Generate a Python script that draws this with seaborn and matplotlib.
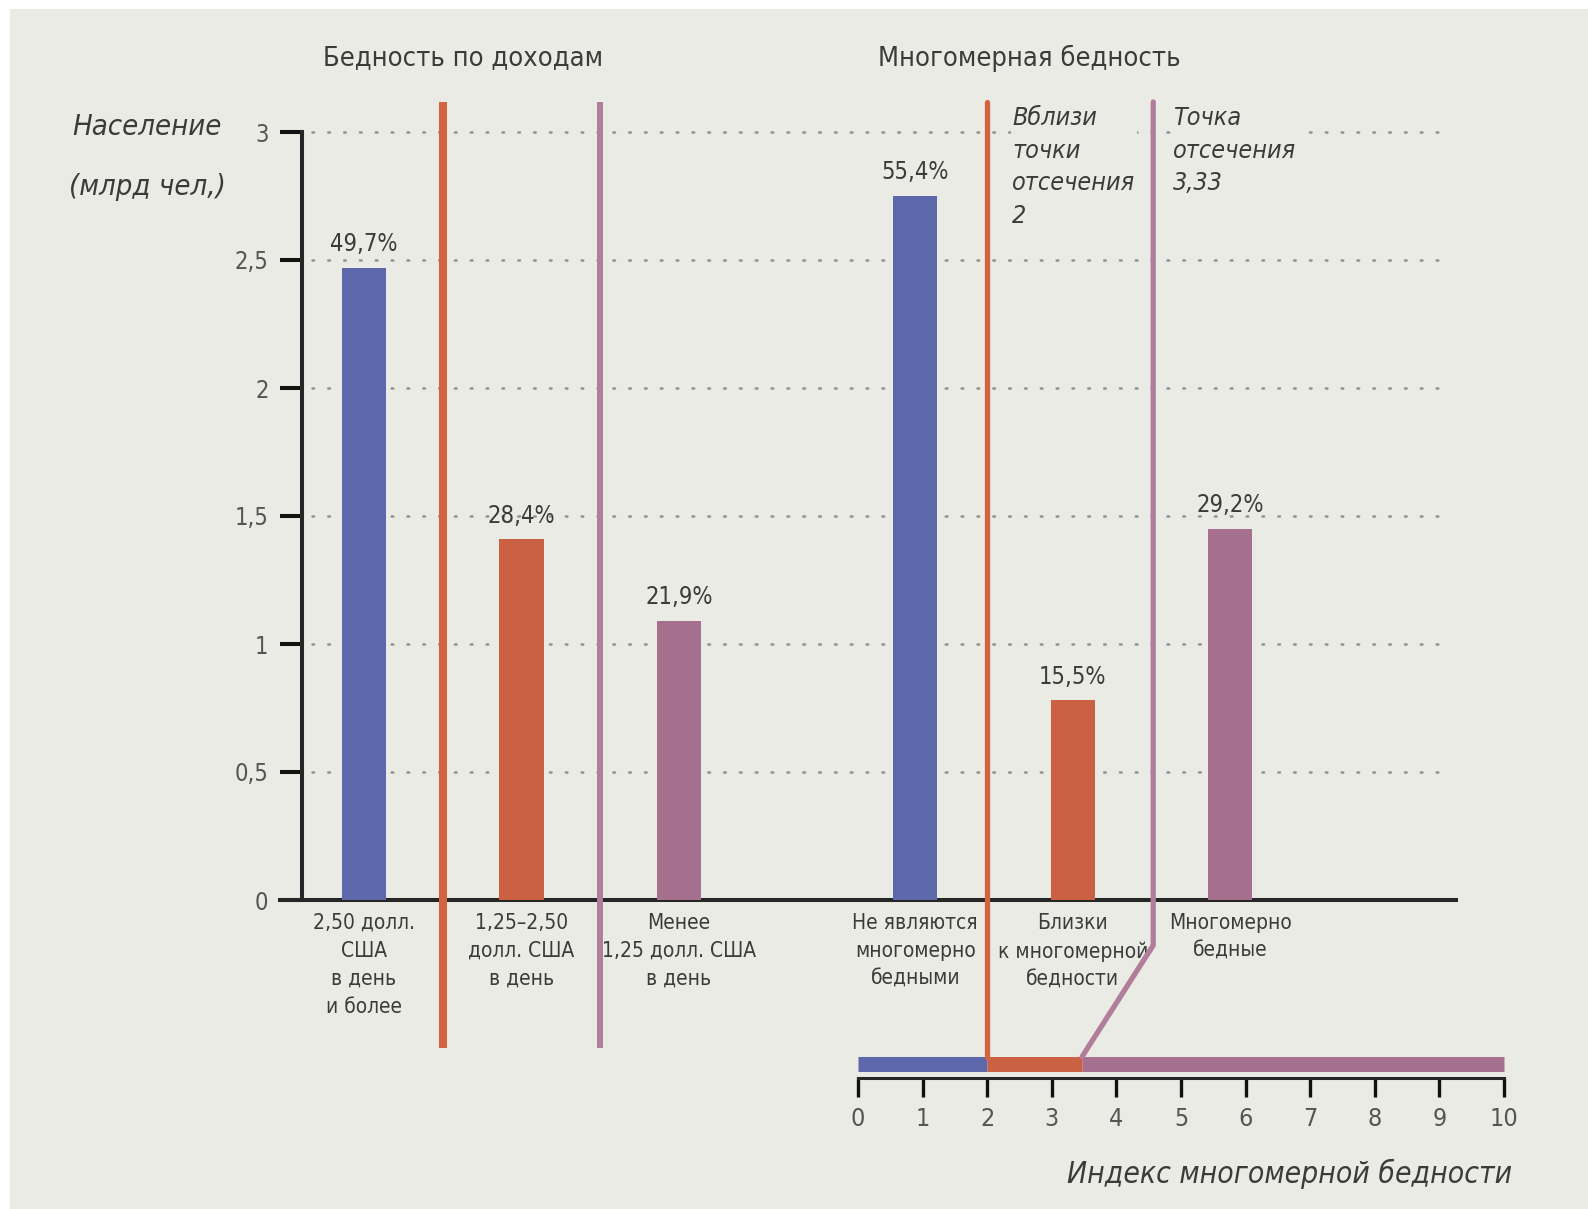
import matplotlib
matplotlib.use("Agg")
import matplotlib.pyplot as plt
from matplotlib.patches import Rectangle
import seaborn as sns
import pandas as pd

# data
categories = [
    "2,50 долл.\nСША\nв день\nи более",
    "1,25–2,50\nдолл. США\nв день",
    "Менее\n1,25 долл. США\nв день",
    "Не являются\nмногомерно\nбедными",
    "Близки\nк многомерной\nбедности",
    "Многомерно\nбедные",
]
kinds = ["top", "mid", "low", "top", "mid", "low"]
population = [2.47, 1.41, 1.09, 2.75, 0.78, 1.45]
pct_labels = ["49,7%", "28,4%", "21,9%", "55,4%", "15,5%", "29,2%"]
group_titles = ["Бедность по доходам", "Многомерная бедность"]
y_ticks = [0, 0.5, 1, 1.5, 2, 2.5, 3]
y_ticklabels = ["0", "0,5", "1", "1,5", "2", "2,5", "3"]
index_ticks = list(range(0, 11))
index_bounds = [0, 2, 3.47, 10]
cutoff_near = 2
cutoff_poor = 3.47
annot_near = "Вблизи\nточки\nотсечения\n2"
annot_poor = "Точка\nотсечения\n3,33"

# layout
xpos = [0, 1, 2, 3.5, 4.5, 5.5]
colors = {"top": "#5d68ab", "mid": "#c96142", "low": "#a66f8d"}
sep_orange = "#d4643f"
sep_purple = "#b07e9a"
bg = "#ebebe5"
txt = "#3b3b3b"

sns.set_style("ticks")
plt.rcParams["font.family"] = ["DejaVu Sans"]
plt.rcParams["font.stretch"] = "condensed"

W, H = 1588, 1209
fig = plt.figure(figsize=(W / 100, H / 100), dpi=100)
fig.patch.set_facecolor("white")
fig.patches.append(Rectangle((10 / W, 0), 1, 1 - 9 / H, transform=fig.transFigure,
                             facecolor=bg, edgecolor="none", zorder=-10))


def fx(p):
    return p / W


def fy(p):
    return 1 - p / H


# main bar chart
ax = fig.add_axes([fx(280), fy(900), 1176 / W, 768 / H])
ax.set_facecolor("none")
df = pd.DataFrame({"pos": xpos, "value": population, "kind": kinds})
sns.barplot(data=df, x="pos", y="value", hue="kind", palette=colors, native_scale=True,
            dodge=False, width=0.28, saturation=1, legend=False, ax=ax, zorder=3,
            linewidth=0, edgecolor="none")
ax.set_xlim(-0.533, 6.933)
ax.set_ylim(0, 3)
ax.set_xlabel("")
ax.set_ylabel("")
ax.set_xticks([])
for s in ["top", "right"]:
    ax.spines[s].set_visible(False)
ax.spines["left"].set_position(("data", -0.394))
ax.spines["left"].set_linewidth(2.9)
ax.spines["bottom"].set_linewidth(2.9)
ax.set_yticks(y_ticks)
ax.set_yticklabels(y_ticklabels)
ax.tick_params(axis="y", direction="out", length=16, width=2.9, pad=8,
               labelsize=17, labelcolor="#555555", color="#111111")

# dotted guide lines
for yv in y_ticks[1:]:
    ax.plot([-0.33, 6.87], [yv, yv], color="#959595", lw=1.9,
            linestyle=(0, (0.6, 5.4)), dash_capstyle="round", zorder=1, clip_on=False)

# value labels and category labels
for p, v, lab, cat in zip(xpos, population, pct_labels, categories):
    ax.text(p, v + 0.045, lab, ha="center", va="bottom", fontsize=17, color=txt)
    ax.text(p, -0.05, cat, ha="center", va="top", fontsize=15, color=txt, linespacing=1.5)

# income separators
ax.plot([0.5, 0.5], [-0.578, 3.117], color=sep_orange, lw=5.8, clip_on=False,
        solid_capstyle="butt", zorder=4)
ax.plot([1.5, 1.5], [-0.578, 3.117], color=sep_purple, lw=4.3, clip_on=False,
        solid_capstyle="butt", zorder=4)

# annotations next to the cut-off lines (gaps in the dotted lines behind them)
ax.text(fx(1012), fy(106), annot_near, transform=fig.transFigure, ha="left", va="top",
        fontsize=18, style="italic", color=txt, linespacing=1.45, zorder=2,
        bbox=dict(facecolor=bg, edgecolor="none", pad=1))
ax.text(fx(1173), fy(106), annot_poor, transform=fig.transFigure, ha="left", va="top",
        fontsize=18, style="italic", color=txt, linespacing=1.45, zorder=2,
        bbox=dict(facecolor=bg, edgecolor="none", pad=1))

# index scale
ax2 = fig.add_axes([fx(858), fy(1078), 646 / W, 976 / H])
ax2.set_facecolor("none")
ax2.set_xlim(0, 10)
ax2.set_ylim(0, 1)
for s in ["top", "right", "left"]:
    ax2.spines[s].set_visible(False)
ax2.spines["bottom"].set_linewidth(2.2)
ax2.set_yticks([])
ax2.set_xticks(index_ticks)
ax2.set_xticklabels([str(t) for t in index_ticks])
ax2.tick_params(axis="x", direction="out", length=14, width=2.4, pad=7,
                labelsize=18, labelcolor="#555555", color="#111111")
strip_y = 0.0143
seg_colors = [colors["top"], colors["mid"], colors["low"]]
for a, b, c in zip(index_bounds[:-1], index_bounds[1:], seg_colors):
    ax2.plot([a, b], [strip_y, strip_y], color=c, lw=10.8, solid_capstyle="butt",
             clip_on=False, zorder=3)
ax2.plot([cutoff_near, cutoff_near], [0.022, 1.0], color=sep_orange, lw=3.8,
         clip_on=False, zorder=4)
ax2.plot([cutoff_poor, 4.57, 4.57], [0.022, 0.136, 1.0], color=sep_purple, lw=3.8,
         clip_on=False, zorder=4)

# texts
fig.text(fx(463), fy(58), group_titles[0], ha="center", va="center", fontsize=19.5, color=txt)
fig.text(fx(1029), fy(58), group_titles[1], ha="center", va="center", fontsize=19.5, color=txt)
fig.text(fx(147), fy(127), "Население", ha="center", va="center", fontsize=21,
         style="italic", color=txt)
fig.text(fx(147), fy(187), "(млрд чел,)", ha="center", va="center", fontsize=21,
         style="italic", color=txt)
fig.text(fx(1512), fy(1174), "Индекс многомерной бедности", ha="right", va="center",
         fontsize=21.5, style="italic", color=txt)

fig.savefig("out.png", dpi=100)
